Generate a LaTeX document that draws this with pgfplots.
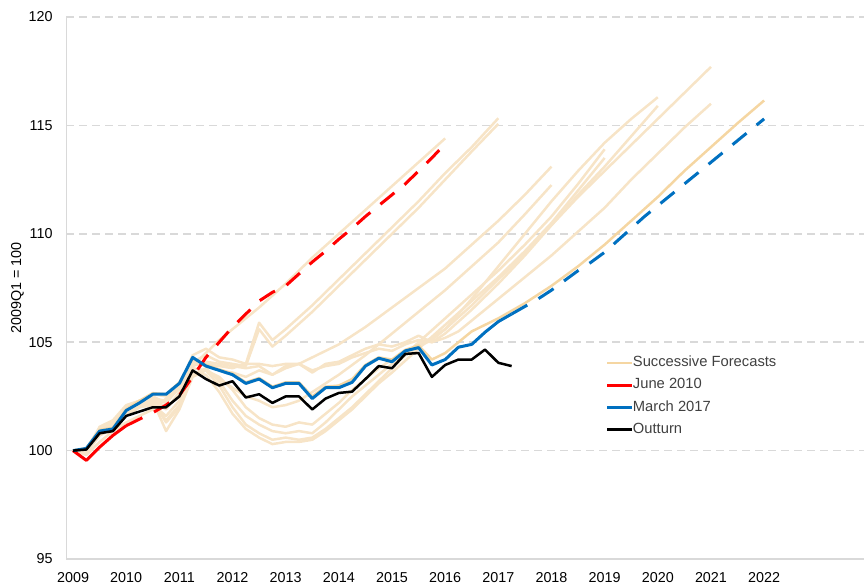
\documentclass[border=0pt]{standalone}
\usepackage{fontspec}
\setmainfont{Liberation Sans}
\usepackage{pgfplots}
\pgfplotsset{compat=1.18}
\usetikzlibrary{calc}
\definecolor{fc}{HTML}{F7E4C7}
\definecolor{fk}{HTML}{F5D6A2}
\definecolor{bl}{HTML}{0070C0}
\definecolor{gridc}{HTML}{D9D9D9}
\begin{document}
\begin{tikzpicture}
\begin{axis}[
 scale only axis, width=398.7bp, height=271bp,
 xmin=-0.5, xmax=59.5, ymin=95, ymax=120,
 xtick={0,4,8,12,16,20,24,28,32,36,40,44,48,52},
 xticklabels={2009,2010,2011,2012,2013,2014,2015,2016,2017,2018,2019,2020,2021,2022},
 ytick={95,100,105,110,115,120},
 axis x line*=bottom, axis y line*=left,
 axis line style={gridc, line width=0.75bp, -},
 ymajorgrids, grid style={gridc, dash pattern=on 4bp off 2.5bp, line width=0.75bp},
 major tick length=0pt,
 tick label style={font=\fontsize{7.2}{8.5}\selectfont, text=black},
 /pgf/number format/assume math mode=true,
 xticklabel style={inner sep=0pt, anchor=north, yshift=-6.3bp},
 yticklabel style={inner sep=0pt, anchor=east, xshift=-6.7bp},
 ylabel={2009Q1 = 100},
 ylabel style={at={(axis description cs:-0.0615,0.5)}, anchor=center, font=\fontsize{7.2}{8.5}\selectfont},
 legend cell align=left,
 legend style={at={(axis cs:40.1,104.55)}, anchor=north west, draw=none, fill=none,
   inner sep=0pt, outer sep=0pt, font=\fontsize{7.4}{8.5}\selectfont, text=black!75,
   row sep=0.4bp, column sep=-2.5bp},
 legend image code/.code={\draw[#1,solid] (0bp,0bp) -- (12.5bp,0bp);},
 every axis plot/.append style={line join=round},
]
% Successive forecasts (light)
\addplot[fc, line width=1.25bp, forget plot] coordinates {(0,100)(1,99.8)(2,100.4)(3,100.9)(4,101.3)(5,101.6)(6,101.9)(7,102.4)(8,103.1)(9,103.9)(10,104.5)(11,105.1)(12,105.6)(14,106.6)(16,107.7)(18,108.9)(20,110.0)(22,111.1)(24,112.2)(26,113.3)(28,114.4)};
\addplot[fc, line width=1.25bp, forget plot] coordinates {(0,100)(1,100.1)(2,100.9)(3,101.2)(4,101.8)(5,102.1)(6,102.4)(7,102.2)(8,103.0)(9,104.4)(10,104.7)(11,104.3)(12,104.2)(13,104.0)(14,105.9)(15,105.1)(16,105.6)(18,106.7)(20,107.9)(22,109.1)(24,110.3)(26,111.5)(28,112.8)(30,114.0)(32,115.33)};
\addplot[fc, line width=1.25bp, forget plot] coordinates {(0,100)(1,100.0)(2,101.1)(3,101.4)(4,102.1)(5,102.3)(6,102.3)(7,101.9)(8,102.7)(9,104.1)(10,104.4)(11,104.1)(12,104.0)(13,103.9)(14,105.6)(15,104.8)(16,105.3)(18,106.4)(20,107.6)(22,108.8)(24,110.0)(26,111.2)(28,112.5)(30,113.8)(32,115.07)};
\addplot[fc, line width=1.25bp, forget plot] coordinates {(0,100)(1,100.1)(2,100.9)(3,101.3)(4,101.9)(5,102.2)(6,102.4)(7,102.3)(8,102.9)(9,103.9)(10,104.1)(11,104.0)(12,103.9)(13,103.8)(14,103.9)(15,103.5)(16,103.8)(17,104.0)(18,104.3)(20,104.9)(22,105.7)(24,106.6)(26,107.5)(28,108.4)(30,109.5)(32,110.6)(34,111.8)(36,113.1)};
\addplot[fc, line width=1.25bp, forget plot] coordinates {(0,100)(1,99.9)(2,100.7)(3,101.0)(4,101.6)(5,102.0)(6,102.1)(7,101.6)(8,102.3)(9,103.5)(10,103.7)(11,103.3)(12,102.9)(13,102.5)(14,102.3)(15,102.0)(16,102.1)(17,102.3)(18,102.7)(20,103.5)(22,104.4)(24,105.4)(26,106.4)(28,107.4)(30,108.5)(32,109.6)(34,110.9)(36,112.25)};
\addplot[fc, line width=1.25bp, forget plot] coordinates {(0,100)(1,99.9)(2,100.8)(3,101.2)(4,101.8)(5,102.1)(6,102.3)(7,100.9)(8,101.9)(9,103.4)(10,103.7)(11,103.0)(12,102.0)(13,101.2)(14,100.8)(15,100.5)(16,100.6)(17,100.5)(18,100.6)(19,101.0)(20,101.5)(21,102.0)(22,102.6)(24,103.8)(26,105.0)(28,106.1)(30,107.2)(32,108.3)(34,109.5)(36,110.8)(38,112.3)(40,113.9)};
\addplot[fc, line width=1.25bp, forget plot] coordinates {(0,100)(1,100.0)(2,100.9)(3,101.3)(4,101.7)(5,102.0)(6,102.2)(7,101.4)(8,102.1)(9,103.6)(10,103.5)(11,102.7)(12,101.7)(13,101.0)(14,100.6)(15,100.3)(16,100.4)(17,100.4)(18,100.5)(19,100.9)(20,101.4)(21,101.9)(22,102.5)(23,103.1)(24,103.6)(26,104.7)(28,105.8)(30,106.9)(32,108.0)(34,109.2)(36,110.5)(38,112.0)(40,113.5)};
\addplot[fc, line width=1.25bp, forget plot] coordinates {(0,100)(1,100.0)(2,100.9)(3,101.2)(4,101.9)(5,102.2)(6,102.3)(7,101.3)(8,102.0)(9,103.5)(10,103.8)(11,103.2)(12,102.3)(13,101.6)(14,101.2)(15,100.9)(16,100.8)(17,100.9)(18,100.8)(19,101.3)(20,101.9)(21,102.5)(22,103.0)(23,103.5)(24,104.0)(25,104.4)(26,104.8)(27,105.1)(28,105.6)(30,107.0)(32,108.5)(34,110.0)(36,111.5)(38,112.9)(40,114.2)(42,115.3)(44,116.3)};
\addplot[fc, line width=1.25bp, forget plot] coordinates {(0,100)(1,100.1)(2,101.0)(3,101.3)(4,102.0)(5,102.3)(6,102.4)(7,102.0)(8,102.5)(9,103.8)(10,103.7)(11,103.4)(12,102.8)(13,102.0)(14,101.5)(15,101.2)(16,101.1)(17,101.3)(18,101.2)(19,101.7)(20,102.2)(21,102.8)(22,103.3)(23,103.8)(24,104.2)(25,104.5)(26,104.9)(27,105.2)(28,105.6)(30,106.7)(32,107.9)(34,109.1)(36,110.4)(38,111.8)(40,113.1)(42,114.5)(44,115.9)};
\addplot[fc, line width=1.25bp, forget plot] coordinates {(0,100)(1,100.1)(2,101.0)(3,101.2)(4,102.0)(5,102.3)(6,102.5)(7,102.2)(8,102.9)(9,104.1)(10,103.9)(11,103.7)(12,103.6)(13,103.4)(14,103.7)(15,103.5)(16,103.9)(17,104.0)(18,103.7)(19,103.9)(20,104.0)(21,104.3)(22,104.5)(23,104.7)(24,104.6)(25,104.9)(26,105.1)(27,105.0)(28,105.4)(30,106.5)(32,107.7)(34,109.0)(36,110.4)(38,111.7)(40,112.9)(42,114.1)(44,115.3)(46,116.5)(48,117.7)};
\addplot[fc, line width=1.25bp, forget plot] coordinates {(0,100)(1,100.0)(2,100.9)(3,101.1)(4,101.9)(5,102.2)(6,102.6)(7,102.5)(8,103.0)(9,104.2)(10,104.0)(11,103.9)(12,103.8)(13,104.0)(14,104.0)(15,103.9)(16,104.0)(17,104.0)(18,103.6)(19,104.0)(20,104.1)(21,104.4)(22,104.7)(23,104.9)(24,104.8)(25,105.0)(26,105.3)(27,105.0)(28,105.2)(29,105.5)(30,106.0)(32,107.0)(34,108.0)(36,109.0)(38,110.1)(40,111.2)(42,112.5)(44,113.7)(46,114.9)(48,116.0)};
% Latest successive forecast (legend entry)
\addplot[fk, line width=1.25bp] coordinates {(0,100)(1,100.1)(2,100.95)(3,101.05)(4,101.9)(5,102.3)(6,102.65)(7,102.6)(8,103.15)(9,104.25)(10,103.95)(11,103.75)(12,103.55)(13,103.15)(14,103.35)(15,102.95)(16,103.15)(17,103.15)(18,102.5)(19,102.95)(20,103.0)(21,103.3)(22,103.95)(23,104.3)(24,104.2)(25,104.65)(26,104.85)(27,104.2)(28,104.5)(29,105.0)(30,105.5)(31,105.8)(32,106.1)(33,106.45)(34,106.8)(36,107.6)(38,108.5)(40,109.5)(42,110.6)(44,111.7)(46,112.9)(48,114.0)(50,115.1)(52,116.15)};
\addlegendentry{Successive Forecasts}
% June 2010
\addplot[red, line width=1.5bp] coordinates {(0,100)(1,99.55)(2,100.16)(3,100.7)(4,101.15)};
\addlegendentry{June 2010}
\addplot[red, line width=1.5bp, dash pattern=on 9bp off 6.5bp, forget plot] coordinates {(4,101.15)(5,101.45)(6,101.75)(7,102.1)(8,102.55)(9,103.4)(10,104.3)(11,105.0)(12,105.7)(13,106.3)(14,106.9)(15,107.3)(16,107.6)(17,108.15)(18,108.7)(19,109.2)(20,109.75)(21,110.25)(22,110.8)(23,111.3)(24,111.8)(25,112.3)(26,112.9)(27,113.5)(28,114.15)};
% March 2017
\addplot[bl, line width=1.5bp] coordinates {(0,100)(1,100.1)(2,100.9)(3,101.0)(4,101.85)(5,102.2)(6,102.6)(7,102.6)(8,103.1)(9,104.3)(10,103.9)(11,103.7)(12,103.5)(13,103.1)(14,103.3)(15,102.9)(16,103.1)(17,103.1)(18,102.4)(19,102.9)(20,102.9)(21,103.15)(22,103.9)(23,104.26)(24,104.1)(25,104.6)(26,104.75)(27,103.95)(28,104.2)(29,104.77)(30,104.9)(31,105.46)(32,105.95)(33,106.3)};
\addlegendentry{March 2017}
\addplot[bl, line width=1.5bp, dash pattern=on 9bp off 6.5bp, forget plot] coordinates {(33,106.3)(34,106.65)(35,107.0)(36,107.4)(37,107.85)(38,108.3)(39,108.7)(40,109.15)(41,109.7)(42,110.25)(43,110.8)(44,111.3)(45,111.8)(46,112.3)(47,112.8)(48,113.3)(49,113.8)(50,114.3)(51,114.8)(52,115.3)};
% Outturn
\addplot[black, line width=1.25bp] coordinates {(0,100)(1,100.05)(2,100.8)(3,100.9)(4,101.6)(5,101.8)(6,102.0)(7,102.0)(8,102.5)(9,103.7)(10,103.3)(11,103.0)(12,103.2)(13,102.45)(14,102.6)(15,102.2)(16,102.5)(17,102.5)(18,101.9)(19,102.4)(20,102.66)(21,102.72)(22,103.3)(23,103.9)(24,103.8)(25,104.46)(26,104.5)(27,103.4)(28,103.95)(29,104.2)(30,104.2)(31,104.66)(32,104.05)(33,103.9)};
\addlegendentry{Outturn}
\end{axis}
\pgfresetboundingbox
\path ($(current axis.south west)+(-33.2bp,-13.5bp)$) rectangle ($(current axis.north east)+(1.1bp,8.5bp)$);
\end{tikzpicture}
\end{document}
